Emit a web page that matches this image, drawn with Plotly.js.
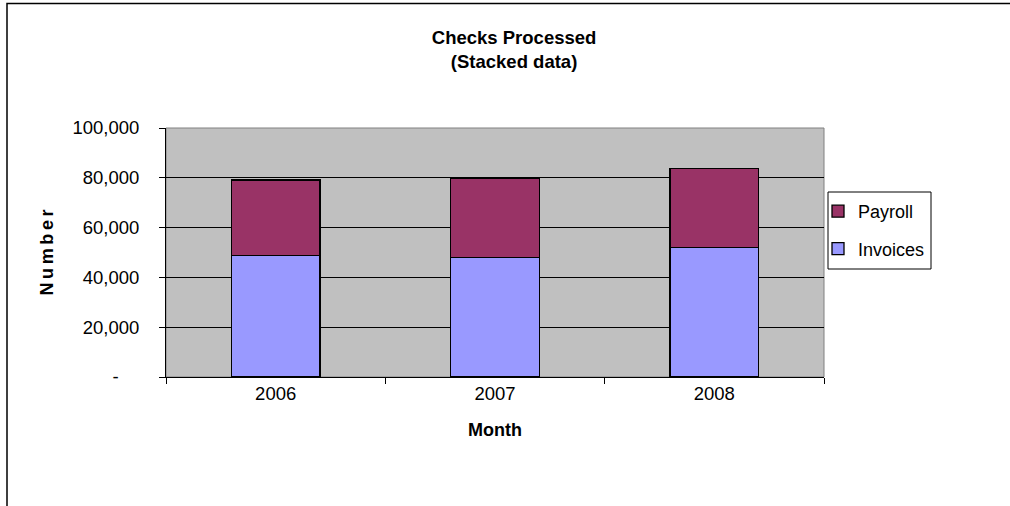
<!DOCTYPE html>
<html>
<head>
<meta charset="utf-8">
<script src="https://cdn.plot.ly/plotly-3.0.1.min.js"></script>
<style>html,body{margin:0;padding:0;background:#fff;}#chart{width:1010px;height:506px;}</style>
</head>
<body>
<div id="chart"></div>
<script>
const years = ['2006', '2007', '2008'];
const invoices = [48700, 48000, 51900];
const payroll = [30400, 31900, 31900];
const yTickVals = [0, 20000, 40000, 60000, 80000, 100000];
const yTickText = ['-&nbsp;&nbsp;&nbsp;&nbsp;', '20,000', '40,000', '60,000', '80,000', '100,000'];

const W = 1010, H = 506;
const L = 166, R = 824, T = 128, B = 377;
const px2x = p => (p - L) / (R - L);
const px2y = p => (B - p) / (B - T);

const font = 'Arial, "Liberation Sans", sans-serif';

const traces = [
  {type: 'bar', name: 'Invoices', x: years, y: invoices, legendgroup: 'b', legendrank: 2,
   marker: {color: '#9999FF', line: {color: '#000000', width: 1.3}}},
  {type: 'bar', name: 'Payroll', x: years, y: payroll, legendgroup: 'a', legendrank: 1,
   marker: {color: '#993366', line: {color: '#000000', width: 1.3}}}
];

const layout = {
  width: W, height: H,
  margin: {l: L, r: W - R, t: T, b: H - B, pad: 0},
  paper_bgcolor: '#FFFFFF',
  plot_bgcolor: '#C0C0C0',
  barmode: 'stack',
  bargap: 0.596,
  showlegend: true,
  font: {family: font, color: '#000000', size: 18},
  title: {text: '<b>Checks Processed</b><br><b>(Stacked data)</b>',
          x: 0.509, xanchor: 'center', y: 1 - 44 / H, yanchor: 'middle',
          font: {family: font, size: 18.5, color: '#000'}},
  xaxis: {
    type: 'category',
    showgrid: false, zeroline: false,
    showline: true, linecolor: '#000', linewidth: 1,
    ticks: 'outside', tickson: 'boundaries', ticklen: 6, tickcolor: '#000', tickwidth: 1,
    tickfont: {family: font, size: 18.5},
    title: {text: '<b>Month</b>', font: {family: font, size: 18}, standoff: 20},
    fixedrange: true
  },
  yaxis: {
    range: [0, 100000],
    tickmode: 'array', tickvals: yTickVals, ticktext: yTickText,
    showgrid: true, gridcolor: '#000000', gridwidth: 1,
    zeroline: false,
    showline: true, linecolor: '#000', linewidth: 1,
    ticks: 'outside', ticklen: 6, tickcolor: '#000', tickwidth: 1,
    tickfont: {family: font, size: 18.5},
    ticklabelstandoff: 16,
    title: {text: '<b>N&#8201;u&#8201;m&#8201;b&#8201;e&#8201;r</b>', font: {family: font, size: 18}, standoff: 14},
    fixedrange: true
  },
  legend: {
    x: px2x(818), xanchor: 'left', y: px2y(193), yanchor: 'top',
    bgcolor: 'rgba(0,0,0,0)', borderwidth: 0,
    traceorder: 'grouped',
    font: {family: font, size: 18},
    tracegroupgap: 11, itemwidth: 30
  },
  shapes: [
    {type: 'rect', xref: 'paper', yref: 'paper', x0: 0, x1: 1, y0: 0, y1: 1,
     line: {color: '#808080', width: 1}, fillcolor: 'rgba(0,0,0,0)', layer: 'below'},
    {type: 'rect', xref: 'paper', yref: 'paper',
     x0: px2x(828), x1: px2x(931), y0: px2y(269), y1: px2y(192),
     line: {color: '#000000', width: 1}, fillcolor: '#FFFFFF', layer: 'below'},
    {type: 'rect', xref: 'paper', yref: 'paper',
     x0: px2x(7), x1: px2x(1030), y0: px2y(530), y1: px2y(3.5),
     line: {color: '#000000', width: 1.5}, fillcolor: 'rgba(0,0,0,0)'}
  ]
};

Plotly.newPlot('chart', traces, layout, {displayModeBar: false, staticPlot: true});
</script>
</body>
</html>
